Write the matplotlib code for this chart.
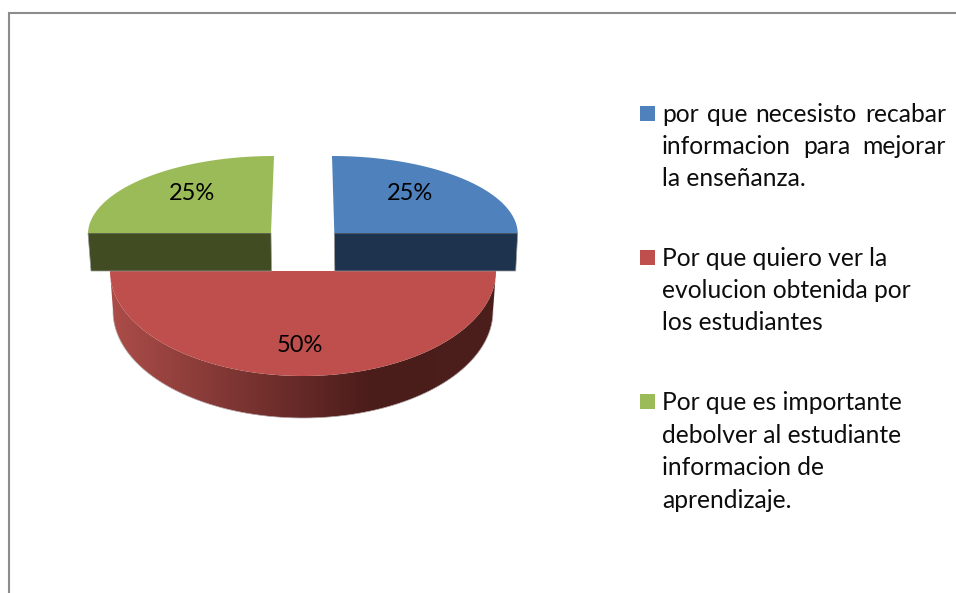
import numpy as np
import matplotlib
matplotlib.use("Agg")
import matplotlib.pyplot as plt
from matplotlib.patches import Polygon, Rectangle

# ---- data ----
categories = [
    ["por que necesisto recabar", "informacion para mejorar", "la enseñanza."],
    ["Por que quiero ver la", "evolucion obtenida por", "los estudiantes"],
    ["Por que es importante", "debolver al estudiante", "informacion de", "aprendizaje."],
]
values = [25, 50, 25]
percent_labels = ["25%", "50%", "25%"]

# ---- style ----
top_colors = ["#4F81BD", "#BE4F4C", "#9BBB59"]
side_colors = ["#1E334E", None, "#414C22"]
centers = [(334.3, 233), (303, 271), (271, 233)]
radii = [(183.4, 77), (193, 105), (183, 77)]
skews = [-2.3, 0, 3]          # horizontal lean of the far edge (perspective)
side_depth = 38
outer_taper = [-2, 0, 3]
label_pos = [(410, 193), (300, 346), (192, 193)]
swatch_y = [106, 250, 394]
baselines = [[122, 154, 186], [266, 298, 330], [410, 443, 475, 508]]
justified = [[True, True, False], [False] * 3, [False] * 4]
TEXT_X, TEXT_R = 662, 946
FONT = "Lato"
LEGEND_SIZE = 17.7

fig = plt.figure(figsize=(9.56, 5.93), dpi=100, facecolor="white")
ax = fig.add_axes([0, 0, 1, 1])
ax.set_xlim(0, 956)
ax.set_ylim(593, 0)
ax.axis("off")

# chart frame
ax.plot([9.5, 9.5, 956], [593, 12.5, 12.5], color="#8C8C8C", lw=1.5, solid_joinstyle="miter", zorder=1)

fractions = np.array(values, dtype=float) / np.sum(values)
edges = np.concatenate([[0], np.cumsum(fractions)]) * 2 * np.pi


def arc(i, t0, t1, n=120):
    cx, cy = centers[i]
    rx, ry = radii[i]
    t = np.linspace(t0, t1, n)
    return np.column_stack([cx + rx * np.sin(t) + skews[i] * np.cos(t), cy - ry * np.cos(t)])


# red slice: rim with horizontal gradient, then the top face
i = 1
t0, t1 = edges[i], edges[i + 1]
upper = arc(i, t0, t1)
cx, cy = centers[i]
rx, ry = radii[i]
t = np.linspace(t0, t1, 120)
lower = np.column_stack([cx + (rx - 3) * np.sin(t), cy + 40 - (ry + 2) * np.cos(t)])
rim = Polygon(np.vstack([upper, lower[::-1]]), closed=True, fc="none", ec="none",
              transform=ax.transData)
ax.add_patch(rim)
stops_x = np.array([110, 373, 496])
stops_rgb = np.array([[0xAC, 0x4D, 0x49], [0x4A, 0x1C, 0x1A], [0x4C, 0x1F, 0x1D]]) / 255
xs = np.linspace(110, 496, 386)
grad = np.stack([np.interp(xs, stops_x, stops_rgb[:, c]) for c in range(3)], axis=-1)[None, :, :]
im = ax.imshow(grad, extent=(110, 496, 420, 271), aspect="auto", zorder=2, interpolation="bilinear")
im.set_clip_path(rim)
ax.set_xlim(0, 956)
ax.set_ylim(593, 0)
ax.plot(lower[:, 0], lower[:, 1], color="#B5A5A5", lw=0.5, zorder=2)
ax.add_patch(Polygon(np.vstack([upper, [(cx, cy)]]), closed=True, fc=top_colors[i], ec="none", zorder=3))

# blue and green exploded slices
for i, edge_t in ((0, edges[1]), (2, edges[2])):
    t0, t1 = edges[i], edges[i + 1]
    cx, cy = centers[i]
    outer = arc(i, edge_t, edge_t, 1)[0]
    side = [(cx, cy), tuple(outer), (outer[0] + outer_taper[i], cy + side_depth), (cx + 0.5, cy + side_depth)]
    ax.add_patch(Polygon(side, closed=True, fc=side_colors[i], ec="#9A9A9A", lw=0.5, zorder=4))
    ax.add_patch(Polygon(np.vstack([arc(i, t0, t1), [(cx, cy)]]), closed=True,
                         fc=top_colors[i], ec="none", zorder=5))

for (x, y), s in zip(label_pos, percent_labels):
    ax.text(x, y, s, family=FONT, fontsize=17, color="black", ha="center", va="center", zorder=6)

# legend
renderer = fig.canvas.get_renderer()
for color, sy, lines, ys, just in zip(top_colors, swatch_y, categories, baselines, justified):
    ax.add_patch(Rectangle((640, sy), 15, 15, fc=color, ec="none", zorder=6))
    for line, y, j in zip(lines, ys, just):
        if not j:
            ax.text(TEXT_X, y, line, family=FONT, fontsize=LEGEND_SIZE, color="#0D0D0D", ha="left", va="baseline")
            continue
        words = line.split()
        arts = [ax.text(TEXT_X, y, w, family=FONT, fontsize=LEGEND_SIZE, color="#0D0D0D", ha="left", va="baseline")
                for w in words]
        widths = [a.get_window_extent(renderer).width for a in arts]
        gap = (TEXT_R - TEXT_X - sum(widths)) / (len(words) - 1)
        x = TEXT_X
        for a, w in zip(arts, widths):
            a.set_x(x)
            x += w + gap

fig.savefig("out.png", dpi=100, facecolor="white")
